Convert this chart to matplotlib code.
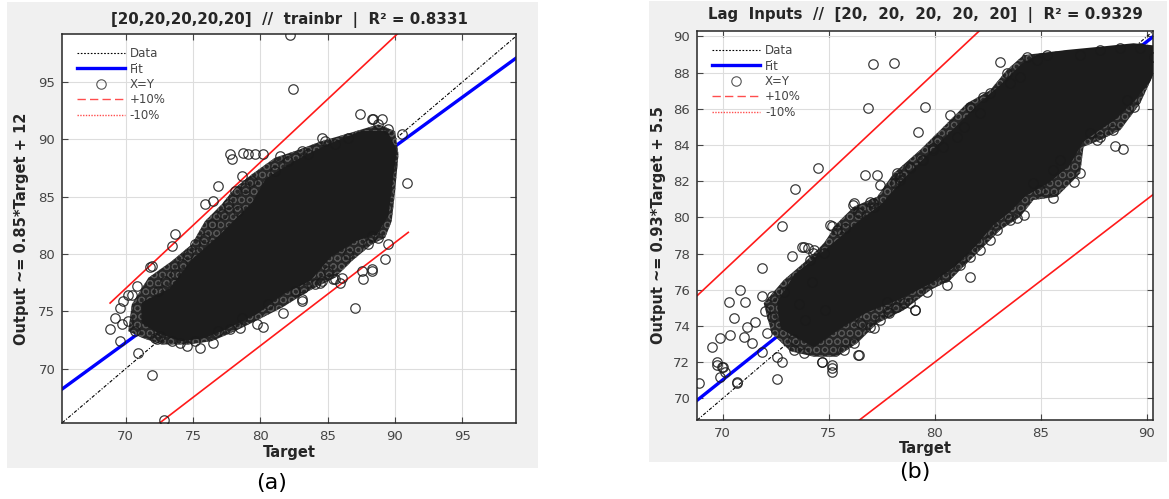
import numpy as np
import matplotlib
matplotlib.use("Agg")
import matplotlib.pyplot as plt
from matplotlib.lines import Line2D
from matplotlib.patches import Polygon, Rectangle

plt.rcParams["font.family"] = ["DejaVu Sans"]
plt.rcParams["hatch.linewidth"] = 0.7

# ---- panel (a) ----
a_title = "[20,20,20,20,20]  //  trainbr  |  R² = 0.8331"
a_ylabel = "Output ~= 0.85*Target + 12"
a_xlim = (65.3, 99.0)
a_ylim = (65.3, 99.2)
a_ticks = [70, 75, 80, 85, 90, 95]
a_fit = (0.856, 12.35)          # slope, intercept of the blue fit line
a_target_range = [68.85, 91.0]  # span of the +/-10 % lines
# fully overlapped part of the cloud
a_core = [(71.44, 75.61), (73.43, 76.77), (75.16, 79.39), (77.14, 81.43), (79.62, 84.34),
          (80.6, 86.37), (82.59, 87.83), (85.06, 89.28), (87.54, 90.44), (89.28, 90.44),
          (89.89, 88.99), (89.52, 85.79), (89.28, 83.46), (88.53, 82.01), (87.05, 81.43),
          (85.06, 79.97), (83.58, 77.94), (81.6, 76.77), (79.62, 75.03), (77.63, 73.87),
          (75.9, 73.0), (74.17, 72.71), (72.68, 73.28), (71.44, 74.15)]
# outline of the band of overlapping circles around the core
a_fringe = [(70.46, 75.61), (71.69, 77.94), (73.43, 79.39), (74.91, 80.85), (75.9, 82.88),
            (77.14, 84.34), (78.13, 85.79), (79.37, 86.95), (81.1, 88.41), (82.59, 88.99),
            (84.57, 89.86), (86.3, 90.44), (88.78, 91.32), (90.02, 90.73), (90.27, 88.70),
            (90.02, 85.50), (89.77, 82.88), (89.28, 81.43), (88.29, 80.85), (86.8, 79.39),
            (85.56, 77.94), (83.58, 76.77), (81.6, 75.32), (79.62, 74.15), (78.13, 73.28),
            (76.4, 72.41), (74.66, 72.12), (72.68, 72.12), (71.2, 72.71), (70.2, 73.28)]
# individual circles
a_points = [(82.22, 99.1), (82.46, 94.37),
            (77.76, 88.76), (77.89, 88.26), (78.75, 88.85), (79.12, 88.70), (79.62, 88.76), (80.23, 88.70),
            (81.47, 88.55), (83.09, 88.99), (84.57, 90.16), (84.82, 89.86),
            (87.42, 92.25), (88.29, 91.75), (89.03, 91.75), (88.78, 91.32), (89.52, 90.88), (90.52, 90.44),
            (88.41, 91.82), (90.89, 86.23),
            (78.63, 86.81), (76.89, 85.93), (75.9, 84.34), (76.52, 84.63), (73.67, 81.72), (73.43, 80.70),
            (71.82, 78.87), (70.83, 77.21), (70.2, 76.48), (69.83, 75.9), (69.59, 75.32), (69.22, 74.45),
            (68.84, 73.43), (70.2, 74.15), (69.71, 73.87), (70.46, 76.48), (71.94, 78.95), (69.59, 72.41),
            (70.95, 71.40), (71.94, 69.42), (72.88, 65.5),
            (72.31, 72.56), (72.56, 72.85), (74.04, 72.27), (74.54, 71.97), (75.53, 71.83), (76.52, 72.27),
            (77.76, 73.43), (78.5, 73.58), (79.74, 73.87), (80.23, 73.67), (81.72, 74.89), (83.09, 75.9),
            (84.57, 77.64), (85.56, 77.79), (86.06, 77.94), (87.05, 75.32), (83.09, 76.05), (83.2, 77.07),
            (84.44, 77.5), (85.43, 77.85), (85.93, 77.5), (87.66, 77.79), (88.29, 78.52), (89.28, 79.54),
            (87.54, 78.52), (88.29, 78.67), (89.52, 80.85), (88.3, 81.57),
            (78.13, 85.50), (78.87, 85.79), (79.37, 86.37), (77.63, 84.34), (78.38, 83.75), (77.14, 83.46),
            (76.40, 82.59), (75.90, 81.43), (75.16, 80.85), (74.66, 79.97), (74.17, 79.10), (73.67, 78.23),
            (72.93, 77.64), (72.43, 76.77),
            (81.1, 87.24), (82.09, 88.12), (83.58, 88.70), (85.56, 89.57), (86.55, 90.16),
            (88.03, 80.85), (88.78, 81.43), (86.55, 79.97), (85.06, 78.52), (84.07, 77.36), (82.59, 76.77),
            (80.6, 75.61), (78.63, 74.45), (76.89, 73.28), (75.16, 72.41), (73.43, 72.41), (72.19, 72.71),
            (70.7, 73.28)]

# ---- panel (b) ----
b_title = "Lag  Inputs  //  [20,  20,  20,  20,  20]  |  R² = 0.9329"
b_ylabel = "Output ~= 0.93*Target + 5.5"
b_xlim = (68.8, 90.3)
b_ylim = (68.8, 90.3)
b_xticks = [70, 75, 80, 85, 90]
b_yticks = [70, 72, 74, 76, 78, 80, 82, 84, 86, 88, 90]
b_fit = (0.935, 5.57)
b_target_range = [68.8, 90.3]
b_core = [(72.72, 75.25), (73.5, 76.72), (75.07, 78.19), (76.33, 79.48), (77.59, 80.59),
          (78.54, 81.88), (79.78, 83.35), (81.04, 84.82), (82.14, 86.11), (83.23, 87.22),
          (84.18, 88.32), (84.97, 88.87), (86.22, 89.06), (87.80, 89.24), (89.37, 89.43),
          (90.4, 89.3), (90.4, 88.69), (90.0, 87.59), (89.37, 86.66), (88.42, 85.56),
          (87.48, 84.82), (86.85, 84.27), (86.22, 82.98), (85.28, 82.06), (84.18, 81.33),
          (83.39, 80.40), (82.61, 79.67), (81.82, 78.56), (80.88, 77.46), (79.79, 76.54),
          (78.22, 75.61), (76.65, 74.88), (75.39, 73.96), (74.29, 73.04), (72.88, 73.96)]
b_fringe = [(71.93, 75.25), (72.88, 76.54), (73.97, 77.64), (74.76, 78.56), (75.39, 79.67),
            (76.18, 80.59), (77.28, 81.14), (78.05, 82.43), (79.30, 83.72), (80.25, 84.82),
            (81.51, 86.30), (82.61, 87.03), (83.39, 88.14), (84.18, 88.97), (85.59, 89.15),
            (87.48, 89.34), (89.37, 89.52), (90.47, 89.43), (90.47, 88.32), (89.68, 86.30),
            (88.74, 84.82), (87.80, 84.27), (87.01, 83.90), (86.85, 82.43), (85.75, 81.14),
            (84.65, 80.96), (84.02, 80.03), (83.08, 79.30), (82.45, 78.56), (81.82, 77.82),
            (81.19, 77.09), (80.73, 76.54), (79.79, 75.98), (78.54, 74.88), (77.28, 74.14),
            (76.33, 73.04), (75.39, 72.30), (74.29, 72.30), (73.19, 72.60), (72.3, 73.6)]
b_points = [(77.1, 88.45), (78.05, 88.51), (76.87, 86.06), (79.54, 86.11), (79.22, 84.70), (74.51, 82.74),
            (76.71, 82.34), (77.26, 82.34), (77.42, 81.78), (73.41, 81.56), (72.78, 79.52), (75.14, 79.52),
            (76.16, 80.68), (77.10, 80.77), (76.39, 80.31), (78.21, 82.43), (78.36, 82.06), (78.83, 82.71),
            (79.93, 83.72), (79.39, 83.17), (83.05, 88.56), (80.72, 85.65), (80.17, 84.27),
            (88.5, 83.94), (88.89, 83.76), (87.64, 84.27), (87.8, 84.45), (86.54, 81.97), (86.85, 82.43),
            (85.59, 81.05), (84.18, 80.13), (83.87, 79.94), (83.55, 79.85), (82.92, 79.30), (82.61, 78.75),
            (82.14, 78.19), (81.66, 77.82), (81.19, 77.36), (81.66, 76.72), (89.37, 86.11), (89.06, 86.48),
            (88.42, 84.82), (87.32, 84.64), (85.91, 83.17), (85.59, 82.61), (84.65, 81.88), (84.97, 81.51),
            (84.34, 88.87), (84.81, 88.69), (85.28, 88.97), (83.39, 87.96), (83.55, 87.40), (84.02, 87.77),
            (82.29, 86.66), (82.61, 86.85), (81.66, 86.11), (82.14, 85.75), (81.04, 84.45), (81.35, 85.0),
            (79.93, 83.81), (80.40, 83.90), (79.46, 83.17), (78.83, 82.80), (78.36, 82.24), (78.13, 81.88),
            (86.85, 88.97), (87.8, 89.24), (88.74, 89.34), (89.68, 89.34), (90.31, 88.87),
            (71.85, 77.18), (70.83, 75.98), (71.06, 75.34), (70.28, 75.30), (71.85, 75.65), (72.32, 75.65),
            (70.52, 74.42), (69.49, 72.85), (69.88, 73.31), (70.36, 73.50), (69.73, 72.02), (69.97, 71.75),
            (70.12, 71.47), (68.87, 70.83), (70.67, 70.92), (72.56, 71.07), (71.14, 73.96), (71.54, 74.23),
            (72.09, 73.59), (71.0, 73.40), (71.38, 73.04), (71.85, 72.57), (72.56, 72.30), (72.8, 72.02),
            (73.82, 78.38), (74.29, 78.19), (74.76, 78.01), (74.13, 77.64), (75.07, 79.57), (75.39, 79.30),
            (75.78, 79.39), (76.18, 80.77), (76.49, 80.22), (76.96, 80.86), (77.12, 80.59), (73.25, 77.86),
            (73.72, 78.38), (74.04, 78.29), (74.27, 78.01), (69.72, 71.84), (70.03, 71.75), (69.87, 71.19),
            (70.66, 70.83), (75.14, 71.66), (75.14, 71.47), (74.67, 72.02), (76.39, 72.39),
            (76.18, 73.04), (76.41, 72.39), (75.71, 72.67), (75.15, 71.84), (74.68, 72.02), (73.82, 72.49),
            (73.35, 72.67), (76.96, 73.96), (77.12, 73.87), (76.49, 74.14), (77.43, 74.33), (77.83, 74.70),
            (78.54, 75.25), (79.08, 74.88), (79.64, 75.89), (80.58, 76.26), (80.5, 76.72), (77.75, 75.34),
            (78.22, 75.06), (78.85, 75.25), (77.81, 74.78), (79.07, 74.88),
            (72.3, 74.5), (72.9, 75.9), (73.6, 75.2), (74.2, 76.4), (73.9, 74.3), (74.8, 74.9),
            (72.0, 74.8), (73.3, 73.3)]

PANEL_GRAY = "#f0f0f0"
CLOUD = "#1c1c1c"
TEXT = "#262626"
TICK = "#454545"


def draw_panel(ax, core, fringe, points, fit, target_range, xlim, ylim, xticks, yticks,
               title, ylabel, title_y, xlab_y, ylab_x):
    x_full = np.array(xlim)
    ax.plot(x_full, x_full, color="black", lw=0.8, ls=(0, (3, 1.5, 1, 1.5)), zorder=2)
    ax.plot(x_full, fit[0] * x_full + fit[1], color="#0000ff", lw=2.4, zorder=2)
    xr = np.array(target_range)
    ax.plot(xr, 1.1 * xr, color="#ff1a1a", lw=1.2, zorder=2)
    ax.plot(xr, 0.9 * xr, color="#ff1a1a", lw=1.2, zorder=2)

    # band of overlapping circles: dark fill with a faint circle texture
    ax.add_patch(Polygon(fringe, closed=True, facecolor="#262626", edgecolor="#555555",
                         lw=0, hatch="OO", zorder=3))
    ax.add_patch(Polygon(core, closed=True, facecolor=CLOUD, edgecolor=CLOUD,
                         lw=5, joinstyle="round", zorder=3))
    px, py = np.array(points).T
    ax.plot(px, py, ls="none", marker="o", ms=6.8, mfc="none", mec="#1a1a1a",
            mew=0.9, alpha=0.85, zorder=4)

    ax.set_xlim(xlim)
    ax.set_ylim(ylim)
    ax.set_xticks(xticks)
    ax.set_yticks(yticks)
    ax.grid(True, color="#dddddd", lw=0.8)
    ax.set_axisbelow(True)
    ax.tick_params(direction="in", length=4, width=0.8, top=True, right=True,
                   labelsize=9.5, colors=TICK, pad=5)
    for s in ax.spines.values():
        s.set_color(TEXT)
        s.set_linewidth(1.1)

    ax.text(0.5, title_y, title, transform=ax.transAxes, ha="center", va="center",
            fontsize=10.8, fontweight="bold", color=TEXT)
    ax.set_xlabel("Target", fontsize=10.5, fontweight="bold", color=TEXT)
    ax.xaxis.set_label_coords(0.5, xlab_y)
    ax.xaxis.label.set_va("center")
    ax.set_ylabel(ylabel, fontsize=10.5, fontweight="bold", color=TEXT)
    ax.yaxis.set_label_coords(ylab_x, 0.5)
    ax.yaxis.label.set_va("center")

    handles = [
        Line2D([], [], color="black", lw=0.8, ls=(0, (1.5, 1.5))),
        Line2D([], [], color="#0000ff", lw=2.4),
        Line2D([], [], ls="none", marker="o", ms=6.8, mfc="none", mec="#555555", mew=0.8),
        Line2D([], [], color="#ff4d4d", lw=1.0, ls=(0, (6, 3))),
        Line2D([], [], color="#ff4d4d", lw=1.0, ls=(0, (1, 1))),
    ]
    labels = ["Data", "Fit", "X=Y", "+10%", "-10%"]
    leg = ax.legend(handles, labels, loc="upper left", bbox_to_anchor=(0.033, 0.966),
                    frameon=False, fontsize=8.5, handlelength=4.0, handletextpad=0.45,
                    labelspacing=0.2, borderpad=0, borderaxespad=0)
    for t in leg.get_texts():
        t.set_color(TICK)


fig = plt.figure(figsize=(11.69, 4.99), dpi=100, facecolor="white")
fig.patches.append(Rectangle((0.006, 0.062), 0.454, 0.934, transform=fig.transFigure,
                             facecolor=PANEL_GRAY, edgecolor="none", zorder=-10))
fig.patches.append(Rectangle((0.555, 0.074), 0.443, 0.924, transform=fig.transFigure,
                             facecolor=PANEL_GRAY, edgecolor="none", zorder=-10))

ax_a = fig.add_axes([0.0533, 0.1529, 0.3881, 0.779])
ax_b = fig.add_axes([0.5965, 0.1583, 0.3901, 0.7796])

draw_panel(ax_a, a_core, a_fringe, a_points, a_fit, a_target_range, a_xlim, a_ylim,
           a_ticks, a_ticks, a_title, a_ylabel, 1.036, -0.077, -0.089)
draw_panel(ax_b, b_core, b_fringe, b_points, b_fit, b_target_range, b_xlim, b_ylim,
           b_xticks, b_yticks, b_title, b_ylabel, 1.041, -0.0745, -0.086)

fig.text(0.2327, 0.032, "(a)", ha="center", va="center", fontsize=16, color="black")
fig.text(0.7827, 0.054, "(b)", ha="center", va="center", fontsize=16, color="black")

fig.savefig("out.png", dpi=100, facecolor="white")
